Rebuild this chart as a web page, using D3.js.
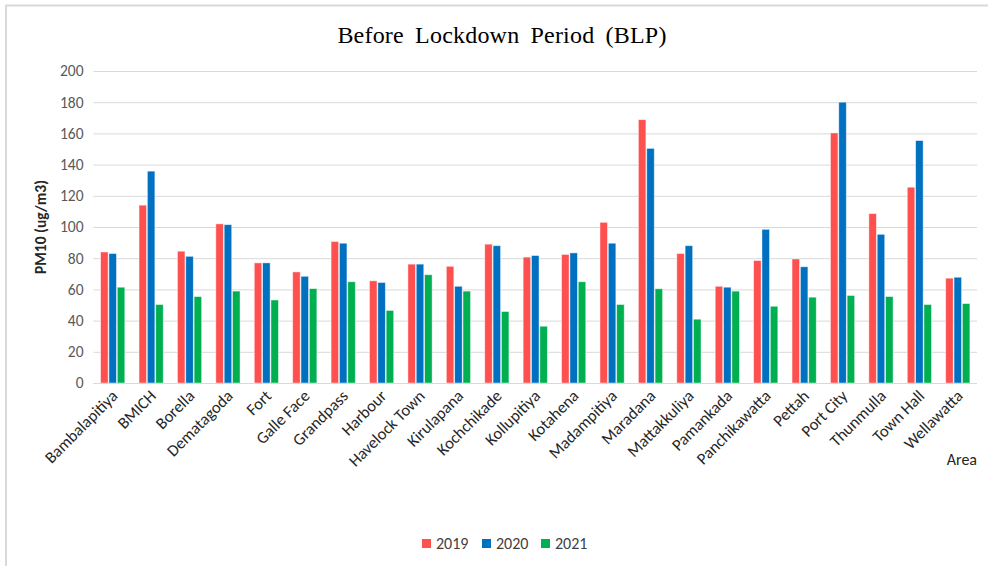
<!DOCTYPE html>
<html>
<head>
<meta charset="utf-8">
<script src="https://cdn.jsdelivr.net/npm/d3@7/dist/d3.min.js"></script>
<style>
  html, body { margin: 0; padding: 0; background: #fff; }
  svg { display: block; }
</style>
</head>
<body>
<svg id="chart" width="988" height="566"></svg>
<script>
// PM10 concentrations by area, before the lockdown period
const areas = ["Bambalapitiya", "BMICH", "Borella", "Dematagoda", "Fort", "Galle Face",
  "Grandpass", "Harbour", "Havelock Town", "Kirulapana", "Kochchikade", "Kollupitiya",
  "Kotahena", "Madampitiya", "Maradana", "Mattakkuliya", "Pamankada", "Panchikawatta",
  "Pettah", "Port City", "Thunmulla", "Town Hall", "Wellawatta"];
const years = ["2019", "2020", "2021"];
const pm2019 = [84, 114, 84.5, 102, 77, 71.2, 90.7, 65.5, 76.2, 74.8, 89, 80.7, 82.4, 103, 168.8, 83, 62, 78.5, 79.5, 160.3, 108.6, 125.5, 67.2];
const pm2020 = [83, 135.8, 81.2, 101.5, 77, 68.4, 89.6, 64.4, 76.2, 62, 88, 81.7, 83.4, 89.6, 150.4, 88, 61.4, 98.5, 74.5, 180, 95.3, 155.4, 67.8];
const pm2021 = [61.4, 50.3, 55.4, 58.9, 53.2, 60.5, 64.9, 46.5, 69.4, 58.9, 45.8, 36.4, 64.9, 50.3, 60.4, 40.9, 58.9, 49.2, 55, 56.1, 55.4, 50.3, 50.9];
const yTicks = [0, 20, 40, 60, 80, 100, 120, 140, 160, 180, 200];
const colors = ["#FF5050", "#0070C0", "#00B050"];
const series = [pm2019, pm2020, pm2021];

const font = "Carlito, Lato, 'Liberation Sans', sans-serif";
const svg = d3.select("#chart");
const margin = { left: 93.5, right: 977, top: 71, bottom: 383 };

// frame
svg.append("path")
  .attr("d", `M6,566 V5.5 H988`)
  .attr("fill", "none").attr("stroke", "#d9d9d9").attr("stroke-width", 2);

const x = d3.scaleBand().domain(areas).range([margin.left, margin.right]).paddingInner(0).paddingOuter(0);
const y = d3.scaleLinear().domain([0, 200]).range([margin.bottom, margin.top]);
const groupWidth = x.bandwidth() * 0.63;
const xs = d3.scaleBand().domain(years).range([0, groupWidth]).paddingInner(0.1);

// gridlines
const grid = svg.append("g")
  .attr("transform", `translate(${margin.left},0)`)
  .call(d3.axisLeft(y).tickValues(yTicks).tickSize(-(margin.right - margin.left)).tickFormat(""));
grid.select(".domain").remove();
grid.selectAll("line").attr("stroke", "#d9d9d9").attr("stroke-width", 1);

// y tick labels
const yAxis = svg.append("g")
  .attr("transform", `translate(${margin.left},0)`)
  .call(d3.axisLeft(y).tickValues(yTicks).tickSize(0).tickPadding(10));
yAxis.select(".domain").remove();
yAxis.selectAll("text")
  .attr("font-family", font)
  .attr("font-size", 15.5).attr("fill", "#595959");

// bars
const groups = svg.append("g").selectAll("g").data(areas).join("g")
  .attr("transform", d => `translate(${x(d) + (x.bandwidth() - groupWidth) / 2},0)`);
groups.selectAll("rect")
  .data((d, i) => years.map((yr, k) => ({ yr, k, v: series[k][i] })))
  .join("rect")
  .attr("x", d => xs(d.yr))
  .attr("width", xs.bandwidth())
  .attr("y", d => y(d.v))
  .attr("height", d => y(0) - y(d.v))
  .attr("fill", d => colors[d.k])
  .attr("stroke", "rgba(255,255,255,0.55)")
  .attr("stroke-width", 0.8);

// x axis line
svg.append("line")
  .attr("x1", margin.left).attr("x2", margin.right)
  .attr("y1", y(0) + 0.5).attr("y2", y(0) + 0.5)
  .attr("stroke", "#d9d9d9").attr("stroke-width", 1.2);

// x tick labels, rotated
const xAxis = svg.append("g")
  .attr("transform", `translate(0,${margin.bottom})`)
  .call(d3.axisBottom(x).tickSize(0).tickPadding(0));
xAxis.select(".domain").remove();
xAxis.selectAll("text")
  .attr("font-family", font)
  .attr("font-size", 16.5).attr("fill", "#262626")
  .attr("text-anchor", "end")
  .attr("dy", null)
  .attr("transform", "translate(6,14) rotate(-45)");

// axis titles
svg.append("text")
  .attr("transform", `translate(46,227) rotate(-90)`)
  .attr("text-anchor", "middle")
  .attr("font-family", font)
  .attr("font-weight", "bold").attr("font-size", 15.5).attr("fill", "#262626")
  .text("PM10 (ug/m3)");

svg.append("text")
  .attr("x", 977).attr("y", 465)
  .attr("text-anchor", "end")
  .attr("font-family", font)
  .attr("font-size", 16).attr("fill", "#262626")
  .text("Area");

// title
svg.append("text")
  .attr("x", 502).attr("y", 43)
  .attr("text-anchor", "middle")
  .attr("font-family", "'Liberation Serif', 'Times New Roman', serif")
  .attr("font-size", 24).attr("fill", "#000")
  .attr("letter-spacing", 0.2)
  .attr("word-spacing", 5)
  .text("Before Lockdown Period (BLP)");

// legend
const legendX = [422, 482, 541];
const legend = svg.append("g").selectAll("g").data(years).join("g")
  .attr("transform", (d, i) => `translate(${legendX[i]},539)`);
legend.append("rect").attr("width", 9).attr("height", 9).attr("fill", (d, i) => colors[i]);
legend.append("text")
  .attr("x", 14).attr("y", 10)
  .attr("font-family", font)
  .attr("font-size", 16).attr("fill", "#404040")
  .text(d => d);
</script>
</body>
</html>
